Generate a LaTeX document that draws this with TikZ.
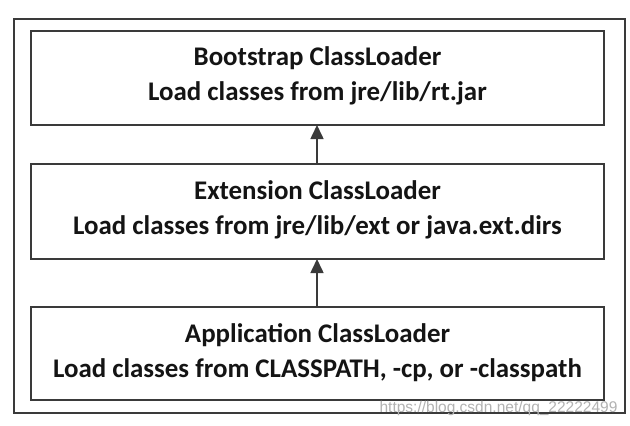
\documentclass[tikz,border=0pt]{standalone}
\usepackage{fontspec}
\setmainfont{Carlito}
\newfontfamily\wmfont{Liberation Sans}
\usetikzlibrary{arrows.meta}
\definecolor{linegray}{HTML}{3A3A3A}
\begin{document}
\begin{tikzpicture}[x=1pt,y=-1pt,
  box/.style={draw=linegray,line width=2.2pt,fill=white},
  lbl/.style={font=\bfseries\fontsize{26.9}{35}\selectfont,align=center,text=black!92},
  arr/.style={draw=linegray,line width=1.6pt,-{Triangle[length=14pt,width=13pt]}}]
\useasboundingbox[fill=white] (0,0) rectangle (630,426);
\draw[box] (14,19) rectangle (625,413);
\draw[box] (31,31) rectangle (604,125);
\draw[box] (31,164) rectangle (604,259);
\draw[box] (31,307) rectangle (604,400);
\node[lbl] (boot) at (317.5,76) {Bootstrap ClassLoader\\Load classes from jre/lib/rt.jar};
\node[lbl] (ext) at (317.5,210) {Extension ClassLoader\\Load classes from jre/lib/ext or java.ext.dirs};
\node[lbl] (app) at (317.5,352.5) {Application ClassLoader\\Load classes from CLASSPATH, -cp, or -classpath};
\coordinate (tb) at (317,125);
\coordinate (mt) at (317,164);
\coordinate (mb) at (317,259);
\coordinate (bt) at (317,307);
\draw[arr] (mt) -- (tb);
\draw[arr] (bt) -- (mb);
\node[font=\wmfont\fontsize{15.5}{15}\selectfont,text=black!30,anchor=east] (wm) at (621,408) {https://blog.csdn.net/qq\_22222499};
\end{tikzpicture}
\end{document}
